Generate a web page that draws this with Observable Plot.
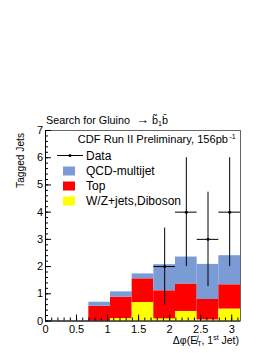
<!DOCTYPE html>
<html><head><meta charset="utf-8">
<script src="https://cdn.jsdelivr.net/npm/d3@7"></script>
<script src="https://cdn.jsdelivr.net/npm/@observablehq/plot@0.6"></script>
<style>
html,body{margin:0;padding:0;background:#fff;}
#chart{position:relative;width:273px;height:353px;}
svg{font-family:"Liberation Sans",Arial,sans-serif;}
</style></head>
<body><div id="chart"></div>
<script>
// 9 bins from 0 to pi
const nBins = 9;
const binIndex = [0,1,2,3,4,5,6,7,8];
const wzValues  = [0,0,0.00,0.09,0.68,0.08,0.35,0.04,0.44];
const topValues = [0,0,0.54,0.78,0.87,1.03,1.01,0.75,0.89];
const qcdValues = [0,0,0.15,0.20,0.18,0.96,0.99,1.29,1.07];
const dataCounts = [0,0,0,0,0,2,4,3,4];
const xTicks = [0,0.5,1,1.5,2,2.5,3];
const yTicks = [0,1,2,3,4,5,6,7];
const seriesNames = ["W/Z+jets,Diboson","Top","QCD-multijet"];
const seriesColors = ["#ffff00","#ff0000","#7b9bd4"];

const w = Math.PI / nBins;
const stackRows = [];
binIndex.forEach(i => {
  const vals = [wzValues[i], topValues[i], qcdValues[i]];
  vals.forEach((v, k) => {
    if (v > 0) stackRows.push({x1: i*w, x2: (i+1)*w, y: v, s: seriesNames[k]});
  });
});
const dataRows = binIndex.filter(i => dataCounts[i] > 0).map(i => ({
  x: (i+0.5)*w, x1: i*w, x2: (i+1)*w, y: dataCounts[i],
  lo: dataCounts[i] - Math.sqrt(dataCounts[i]), hi: dataCounts[i] + Math.sqrt(dataCounts[i])
}));

const minorX = d3.range(0, 3.15, 0.1);
const minorY = d3.range(0, 7.01, 0.2);

const plot = Plot.plot({
  width: 273, height: 353,
  marginLeft: 45, marginRight: 33, marginTop: 130, marginBottom: 32.5,
  style: {fontFamily: '"Liberation Sans",Arial,sans-serif', fontSize: "11px", color: "#000", background: "#fff"},
  x: {domain: [0, Math.PI]},
  y: {domain: [0, 7]},
  color: {domain: seriesNames, range: seriesColors},
  marks: [
    Plot.frame({stroke: "#666"}),
    Plot.rectY(stackRows, Plot.stackY({order: seriesNames, x1: "x1", x2: "x2", y: "y", fill: "s", z: "s"})),
    Plot.axisX({ticks: minorX, tickSize: -3, tickFormat: () => "", label: null}),
    Plot.axisY({ticks: minorY, tickSize: -3, tickFormat: () => "", label: null}),
    Plot.axisX({ticks: xTicks, tickSize: -6, tickPadding: 10.5, tickFormat: d => String(d), label: null, fontSize: 11}),
    Plot.axisY({ticks: yTicks, tickSize: -6, tickPadding: 8.5, tickFormat: d => String(d), label: null, fontSize: 11}),
    Plot.ruleY([0], {stroke: "#000"}),
    Plot.ruleX([0], {stroke: "#000"}),
    Plot.ruleX(dataRows, {x: "x", y1: "lo", y2: "hi", stroke: "#000", strokeWidth: 1}),
    Plot.ruleY(dataRows, {y: "y", x1: "x1", x2: "x2", stroke: "#000", strokeWidth: 1}),
    Plot.dot(dataRows, {x: "x", y: "y", r: 1.5, fill: "#000"})
  ]
});
document.getElementById("chart").appendChild(plot);

// annotations
const svg = d3.select(plot);
const font = '"Liberation Sans",Arial,sans-serif';
function txt(x, y, anchor, html, size, rot) {
  const t = svg.append("text").attr("x", x).attr("y", y).attr("text-anchor", anchor)
    .attr("font-family", font).attr("font-size", size).attr("fill", "#000").html(html);
  if (rot) t.attr("transform", `rotate(${rot},${x},${y})`);
  return t;
}
txt(46, 124, "start", 'Search for Gluino \u00a0<tspan font-size="13">\u2192</tspan> b\u0303<tspan font-size="7" dy="2">1</tspan><tspan dy="-2">b\u0304</tspan>', 10.8);
txt(24, 133, "end", "Tagged Jets", 10.2, -90);
txt(239, 344, "end", '\u0394\u03c6(E\u0338<tspan font-size="7" dy="2">T</tspan><tspan dy="-2">, 1</tspan><tspan font-size="7" dy="-4">st</tspan><tspan dy="4"> Jet)</tspan>', 10.5);
txt(228, 143, "end", 'CDF Run II Preliminary, 156pb', 11.1);
txt(229.5, 139, "start", '-1', 7);

// legend
svg.append("line").attr("x1", 57).attr("x2", 83).attr("y1", 155.5).attr("y2", 155.5).attr("stroke", "#000");
svg.append("circle").attr("cx", 70).attr("cy", 155.5).attr("r", 1.5).attr("fill", "#000");
txt(86, 159.8, "start", "Data", 12);
const legendOrder = [2,1,0];
legendOrder.forEach((k, j) => {
  const cy = 171 + j*15;
  svg.append("rect").attr("x", 63).attr("y", cy-4.5).attr("width", 12).attr("height", 9).attr("fill", seriesColors[k]);
  txt(86, cy+4.3, "start", seriesNames[k], 12);
});
</script></body></html>
